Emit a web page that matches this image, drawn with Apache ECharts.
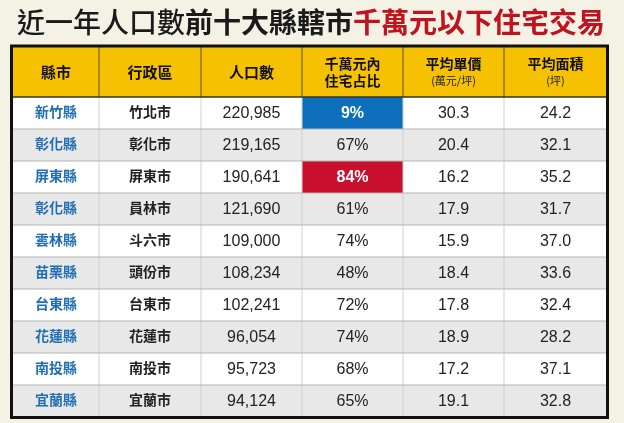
<!DOCTYPE html>
<html>
<head>
<meta charset="utf-8">
<script src="https://cdn.jsdelivr.net/npm/echarts@6/dist/echarts.min.js"></script>
<style>
    html, body { margin: 0; padding: 0; background: #f3f2e4; }
    #main { width: 624px; height: 423px; }
</style>
</head>
<body>
<div id="main"></div>
<script>
// 表頭
const headers = ['縣市', '行政區', '人口數', '千萬元內\n住宅占比', '平均單價', '平均面積'];
const headerUnits = ['', '', '', '', '(萬元/坪)', '(坪)'];

// 資料
const counties = ['新竹縣', '彰化縣', '屏東縣', '彰化縣', '雲林縣', '苗栗縣', '台東縣', '花蓮縣', '南投縣', '宜蘭縣'];
const districts = ['竹北市', '彰化市', '屏東市', '員林市', '斗六市', '頭份市', '台東市', '花蓮市', '南投市', '宜蘭市'];
const population = [220985, 219165, 190641, 121690, 109000, 108234, 102241, 96054, 95723, 94124];
const shareUnder10M = [9, 67, 84, 61, 74, 48, 72, 74, 68, 65];
const avgUnitPrice = [30.3, 20.4, 16.2, 17.9, 15.9, 18.4, 17.8, 18.9, 17.2, 19.1];
const avgArea = [24.2, 32.1, 35.2, 31.7, 37.0, 33.6, 32.4, 28.2, 37.1, 32.8];

// 欄位邊界 (x 軸單位)
const colEdges = [0, 86, 188, 289, 390, 491, 594];

const LATIN = '"Liberation Sans", "Noto Sans CJK TC", sans-serif';
const CJK = '"Noto Sans CJK TC", sans-serif';

const minShare = Math.min(...shareUnder10M);
const maxShare = Math.max(...shareUnder10M);

function cellText(c, r) {
    switch (c) {
        case 0: return counties[r];
        case 1: return districts[r];
        case 2: return population[r].toLocaleString('en-US');
        case 3: return shareUnder10M[r] + '%';
        case 4: return avgUnitPrice[r].toFixed(1);
        default: return avgArea[r].toFixed(1);
    }
}

function cellBox(api) {
    const c = api.value(0), r = api.value(1);
    const h = api.size([0, 1])[1];
    const p0 = api.coord([colEdges[c], r]);
    const p1 = api.coord([colEdges[c + 1], r]);
    return { c, r, x: p0[0], y: p0[1] - h / 2, w: p1[0] - p0[0], h };
}

function renderBody(params, api) {
    const b = cellBox(api);
    let fill = b.r % 2 ? '#e8e8e8' : '#ffffff';
    let color = '#222';
    let font = '16px ' + LATIN;
    let dy = 1;
    if (b.c === 0) { color = '#1f6db4'; font = 'bold 14px ' + CJK; dy = -1; }
    if (b.c === 1) { font = 'bold 14px ' + CJK; dy = -1; }
    if (b.c === 3 && shareUnder10M[b.r] === minShare) { fill = '#0d6fbb'; color = '#fff'; font = 'bold 16px ' + LATIN; }
    if (b.c === 3 && shareUnder10M[b.r] === maxShare) { fill = '#c8102e'; color = '#fff'; font = 'bold 16px ' + LATIN; }
    return {
        type: 'group',
        children: [
            { type: 'rect', shape: { x: b.x, y: b.y, width: b.w, height: b.h }, style: { fill: fill } },
            { type: 'line', z2: 10, shape: { x1: b.x, y1: b.y + b.h, x2: b.x + b.w, y2: b.y + b.h }, style: { stroke: '#b5b5b5', lineWidth: 1 } },
            { type: 'line', z2: 5, shape: { x1: b.x + b.w, y1: b.y, x2: b.x + b.w, y2: b.y + b.h }, style: { stroke: '#d0d0d0', lineWidth: 1 } },
            {
                type: 'text', z2: 20, x: b.x + b.w / 2, y: b.y + b.h / 2 + dy,
                style: { text: cellText(b.c, b.r), fill: color, font: font, align: 'center', verticalAlign: 'middle' }
            }
        ]
    };
}

function renderHead(params, api) {
    const b = cellBox(api);
    let text;
    if (headerUnits[b.c]) {
        text = '{t|' + headers[b.c] + '}\n{u|' + headerUnits[b.c] + '}';
    } else if (headers[b.c].indexOf('\n') >= 0) {
        text = headers[b.c].split('\n').map(s => '{t|' + s + '}').join('\n');
    } else {
        text = '{s|' + headers[b.c] + '}';
    }
    return {
        type: 'group',
        children: [
            { type: 'rect', shape: { x: b.x, y: b.y, width: b.w, height: b.h }, style: { fill: '#f6c100' } },
            { type: 'line', z2: 10, shape: { x1: b.x + b.w, y1: b.y, x2: b.x + b.w, y2: b.y + b.h }, style: { stroke: '#5a5040', lineWidth: 1 } },
            { type: 'line', z2: 10, shape: { x1: b.x, y1: b.y + b.h, x2: b.x + b.w, y2: b.y + b.h }, style: { stroke: '#333', lineWidth: 1.5 } },
            {
                type: 'text', z2: 20, x: b.x + b.w / 2, y: b.y + b.h / 2,
                style: {
                    text: text, fill: '#111', align: 'center', verticalAlign: 'middle',
                    rich: {
                        s: { font: 'bold 15px ' + CJK, fill: '#111' },
                        t: { font: 'bold 14px ' + CJK, lineHeight: 17, fill: '#111', align: 'center' },
                        u: { font: '11px ' + CJK, lineHeight: 16, fill: '#222', align: 'center' }
                    }
                }
            }
        ]
    };
}

const bodyData = [];
for (let r = 0; r < counties.length; r++) {
    for (let c = 0; c < headers.length; c++) bodyData.push([c, r]);
}
const headData = headers.map((h, c) => [c, 0]);

const myChart = echarts.init(document.getElementById('main'));
const option = {
    animation: false,
    backgroundColor: '#f3f2e4',
    title: {
        text: '{a|近一年人口數}{b|前十大縣轄市}{c|千萬元以下住宅交易}',
        left: 12,
        top: 3,
        textStyle: {
            fontSize: 28,
            rich: {
                a: { fontSize: 28, fontWeight: 500, fontFamily: CJK, color: '#1a1a1a' },
                b: { fontSize: 28, fontWeight: 'bold', fontFamily: CJK, color: '#1a1a1a' },
                c: { fontSize: 28, fontWeight: 'bold', fontFamily: CJK, color: '#c1121f' }
            }
        }
    },
    grid: [
        { left: 13, top: 47, width: 594, height: 50 },
        { left: 13, top: 97, width: 594, height: 320 }
    ],
    xAxis: [
        { gridIndex: 0, type: 'value', min: 0, max: 594, show: false },
        { gridIndex: 1, type: 'value', min: 0, max: 594, show: false }
    ],
    yAxis: [
        { gridIndex: 0, type: 'category', data: ['head'], show: false },
        { gridIndex: 1, type: 'category', data: counties.map((n, i) => String(i)), inverse: true, show: false }
    ],
    series: [
        { type: 'custom', xAxisIndex: 0, yAxisIndex: 0, renderItem: renderHead, data: headData, silent: true },
        { type: 'custom', xAxisIndex: 1, yAxisIndex: 1, renderItem: renderBody, data: bodyData, silent: true }
    ],
    graphic: [
        {
            type: 'rect', z: 100,
            shape: { x: 11.5, y: 46, width: 596, height: 371.5 },
            style: { fill: 'none', stroke: '#111', lineWidth: 3 }
        }
    ]
};
myChart.setOption(option);
</script>
</body>
</html>
